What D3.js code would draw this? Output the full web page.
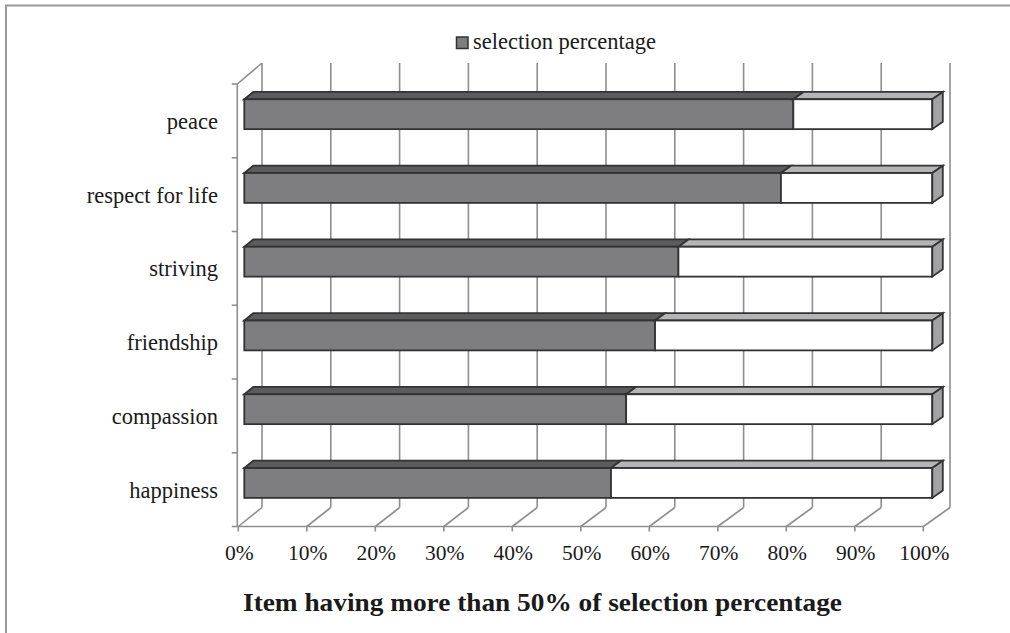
<!DOCTYPE html>
<html>
<head>
<meta charset="utf-8">
<script src="https://cdn.jsdelivr.net/npm/d3@7"></script>
<style>
  html, body { margin: 0; padding: 0; background: #fff; }
  svg { display: block; }
  text { font-family: "Liberation Serif", "Times New Roman", serif; fill: #1a1a1a; }
</style>
</head>
<body>
<svg id="chart" width="1010" height="633"></svg>
<script>
// Items and their share of selections (%), top to bottom
const categories = ["peace", "respect for life", "striving", "friendship", "compassion", "happiness"];
const selectionValues = [79.8, 78.0, 63.1, 59.7, 55.5, 53.3];
const tickValues = [0, 10, 20, 30, 40, 50, 60, 70, 80, 90, 100];
const seriesName = "selection percentage";
const chartTitle = "Item having more than 50% of selection percentage";

const svg = d3.select("#chart");

// outer frame (top and left edges)
svg.append("path")
  .attr("d", "M6,1010 L6,5.5 L1010,5.5")
  .attr("fill", "none").attr("stroke", "#9a9a9a").attr("stroke-width", 2);

// 3D box geometry: front plane and back wall
const yFront = 526.5, yBack = 507.5, yTop = 63;
const xFront = d3.scaleLinear().domain([0, 100]).range([238.3, 923.3]);
const xBack = d3.scaleLinear().domain([0, 100]).range([262, 950]);
const yBand = d3.scaleBand().domain(categories).range([84, yFront]);

// bar planes sit inside the depth of the box
const xBarF = d3.scaleLinear().domain([0, 100]).range([244.3, 932.3]);
const xBarB = d3.scaleLinear().domain([0, 100]).range([253.3, 942.8]);
const barDepthY = 7.3;

const grid = svg.append("g").attr("stroke", "#8e8e8e").attr("stroke-width", 1.6).attr("fill", "none");

// back wall vertical grid lines
grid.selectAll("line.v").data(tickValues).join("line")
  .attr("x1", d => xBack(d)).attr("x2", d => xBack(d))
  .attr("y1", yBack).attr("y2", yTop);

// floor diagonals from front ticks to back wall
grid.selectAll("line.d").data(tickValues).join("line")
  .attr("x1", d => xFront(d)).attr("x2", d => xBack(d))
  .attr("y1", yFront).attr("y2", yBack);

// front floor edge and its ticks
grid.append("line").attr("x1", xFront(0) - 1).attr("x2", xFront(100))
  .attr("y1", yFront).attr("y2", yFront);
grid.selectAll("line.t").data(tickValues).join("line")
  .attr("x1", d => xFront(d)).attr("x2", d => xFront(d))
  .attr("y1", yFront).attr("y2", yFront + 5);

// left (category) axis with ticks at band boundaries
const xLeft = 237.3;
grid.append("line").attr("x1", xLeft).attr("x2", xLeft).attr("y1", 84).attr("y2", yFront);
const boundaries = categories.map(c => yBand(c)).concat([yFront]);
grid.selectAll("line.ct").data(boundaries).join("line")
  .attr("x1", xLeft - 5.5).attr("x2", xLeft)
  .attr("y1", d => d).attr("y2", d => d);
// side wall top edge
grid.append("line").attr("x1", xLeft).attr("y1", 84).attr("x2", xBack(0)).attr("y2", yTop);

// stacked 3D bars
const rows = categories.map((c, i) => ({ cat: c, v: selectionValues[i] }));
const bw = yBand.bandwidth();
const barG = svg.append("g").attr("stroke", "#333").attr("stroke-width", 1.8).attr("stroke-linejoin", "miter");

rows.forEach(r => {
  const y0 = yBand(r.cat) + bw * 0.207;
  const h = bw * 0.405;
  const segs = [
    { a: 0, b: r.v, front: "#7e7e80", top: "#5c5c5e" },
    { a: r.v, b: 100, front: "#ffffff", top: "#b5b5b7" }
  ];
  segs.forEach(s => {
    // top face
    barG.append("path")
      .attr("d", `M${xBarF(s.a)},${y0} L${xBarB(s.a)},${y0 - barDepthY} L${xBarB(s.b)},${y0 - barDepthY} L${xBarF(s.b)},${y0} Z`)
      .attr("fill", s.top);
    // front face
    barG.append("rect")
      .attr("x", xBarF(s.a)).attr("y", y0)
      .attr("width", xBarF(s.b) - xBarF(s.a)).attr("height", h)
      .attr("fill", s.front);
  });
  // right end face
  barG.append("path")
    .attr("d", `M${xBarF(100)},${y0} L${xBarB(100)},${y0 - barDepthY} L${xBarB(100)},${y0 + h - barDepthY} L${xBarF(100)},${y0 + h} Z`)
    .attr("fill", "#a2a2a4");
});

// category labels
svg.append("g").selectAll("text").data(categories).join("text")
  .attr("x", 218).attr("y", d => yBand(d) + bw / 2 + 8)
  .attr("text-anchor", "end").attr("font-size", 22.5)
  .text(d => d);

// value axis labels
const fmt = d => d + "%";
svg.append("g").selectAll("text").data(tickValues).join("text")
  .attr("x", d => xFront(d) + 1).attr("y", 560)
  .attr("text-anchor", "middle").attr("font-size", 21.5)
  .text(fmt);

// legend
const lg = svg.append("g");
lg.append("rect").attr("x", 456.5).attr("y", 37).attr("width", 11.5).attr("height", 11.5)
  .attr("fill", "#7e7e80").attr("stroke", "#333").attr("stroke-width", 1.5);
lg.append("text").attr("x", 473).attr("y", 49).attr("font-size", 22.5).text(seriesName);

// title
svg.append("text")
  .attr("x", 243).attr("y", 611)
  .attr("font-size", 26).attr("font-weight", "bold")
  .attr("textLength", 599).attr("lengthAdjust", "spacingAndGlyphs")
  .text(chartTitle);
</script>
</body>
</html>
